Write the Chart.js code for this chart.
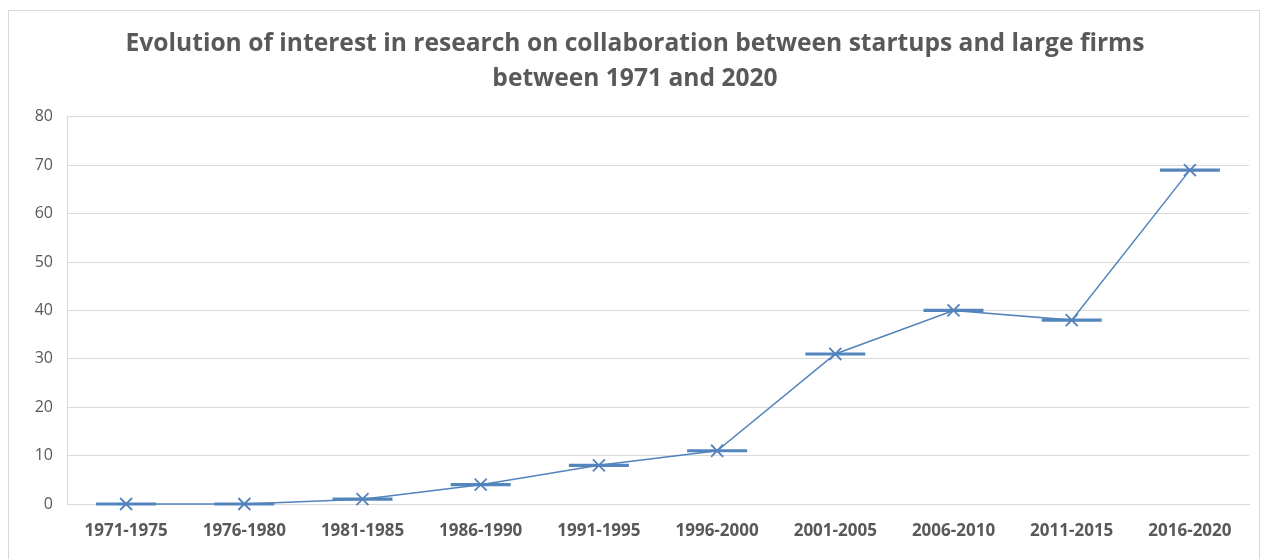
<!DOCTYPE html>
<html lang="en">
<head>
    <meta charset="UTF-8">
    <title>Evolution of interest in research</title>
    <style>
        html, body {
            margin: 0;
            padding: 0;
            background: #fff;
        }

        .frame {
            position: absolute;
            left: 8px;
            top: 10px;
            width: 1250px;
            height: 560px;
            border: 1px solid #d9d9d9;
        }

        .chart-box {
            position: absolute;
            left: 0;
            top: 0;
            width: 1261px;
            height: 559px;
        }
    </style>
</head>
<body>
    <div class="frame"></div>
    <div class="chart-box">
        <canvas id="lineChart"></canvas>
    </div>

    <script src="https://cdn.jsdelivr.net/npm/chart.js"></script>
    <script>
        // Data
        const periods = ['1971-1975', '1976-1980', '1981-1985', '1986-1990', '1991-1995',
                         '1996-2000', '2001-2005', '2006-2010', '2011-2015', '2016-2020'];
        const articles = [0, 0, 1, 4, 8, 11, 31, 40, 38, 69];
        const titleLines = ['Evolution of interest in research on collaboration between startups and large firms',
                            'between 1971 and 2020'];

        const gray = '#595959';
        const gridGray = '#d9d9d9';
        const blue = '#5283bb';

        const config = {
            type: 'line',
            data: {
                labels: periods,
                datasets: [
                    {
                        label: 'Articles',
                        data: articles,
                        borderColor: blue,
                        borderWidth: 1.5,
                        pointStyle: 'crossRot',
                        pointRadius: 8.5,
                        pointHoverRadius: 8.5,
                        pointBorderWidth: 1.8,
                        pointBorderColor: blue,
                        clip: false,
                        tension: 0
                    },
                    {
                        label: 'Level',
                        data: articles,
                        showLine: false,
                        pointStyle: 'line',
                        pointRadius: 30,
                        pointHoverRadius: 30,
                        pointBorderWidth: 3.2,
                        pointBorderColor: '#5585bd',
                        clip: false
                    }
                ]
            },
            options: {
                responsive: false,
                animation: false,
                layout: {
                    // no auto padding, the wide level dashes would shrink the plot
                    autoPadding: false,
                    padding: { left: 21, right: 12, top: 0, bottom: 0 }
                },
                plugins: {
                    legend: { display: false },
                    tooltip: { enabled: false },
                    title: {
                        display: true,
                        text: titleLines,
                        color: gray,
                        font: { family: 'Open Sans', size: 24.6, weight: 'bold', lineHeight: 1.4 },
                        padding: { top: 27, bottom: 21 }
                    }
                },
                scales: {
                    x: {
                        offset: true,
                        grid: { display: false, drawTicks: false },
                        border: { display: true, color: gridGray },
                        ticks: {
                            color: gray,
                            padding: 17,
                            maxRotation: 0,
                            font: { family: 'Open Sans', size: 17, weight: 'bold' }
                        },
                        afterFit: axis => {
                            axis.height = 55;
                            axis.paddingLeft = 0;
                            axis.paddingRight = 0;
                        }
                    },
                    y: {
                        min: 0,
                        max: 80,
                        ticks: {
                            stepSize: 10,
                            color: gray,
                            padding: 14,
                            font: { family: 'Open Sans', size: 16 }
                        },
                        grid: { color: gridGray, drawTicks: false },
                        border: { display: true, color: gridGray },
                        afterFit: axis => { axis.width = 46; }
                    }
                }
            }
        };

        const canvas = document.getElementById('lineChart');
        canvas.width = 1261;
        canvas.height = 559;
        new Chart(canvas, config);
    </script>
</body>
</html>
